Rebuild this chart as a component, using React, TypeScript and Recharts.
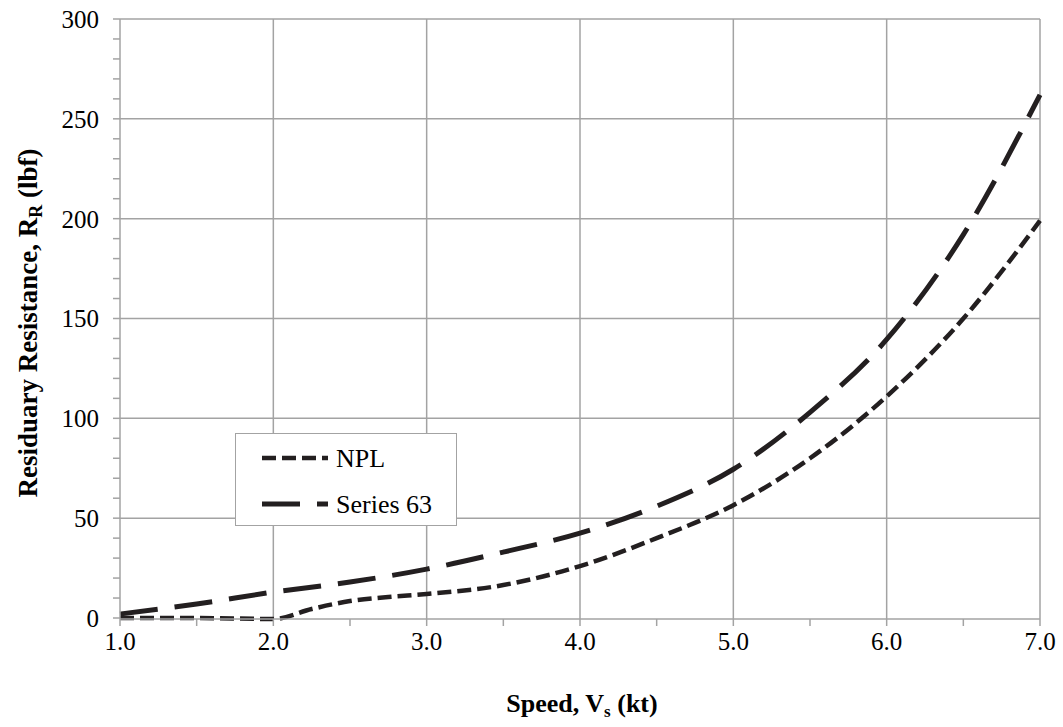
import React from 'react';
import { LineChart, Line, XAxis, YAxis, CartesianGrid, Legend, Label } from 'recharts';

const speedsNPL = [1.0, 1.5, 2.0, 2.25, 2.5, 2.75, 3.0, 3.5, 4.0, 4.5, 5.0, 5.5, 6.0, 6.5, 7.0];
const npl = [0, 0, -0.5, 4.5, 8.5, 10.5, 12, 16.5, 26, 40, 56.5, 80, 111, 150, 199];

const speedsS63 = [1.0, 1.5, 2.0, 2.5, 3.0, 3.5, 4.0, 4.5, 5.0, 5.5, 6.0, 6.5, 7.0];
const series63 = [2, 7, 13, 18, 24.5, 33, 42.5, 56, 74.5, 103, 139.5, 192, 262];

const xTicks = [1.0, 1.5, 2.0, 2.5, 3.0, 3.5, 4.0, 4.5, 5.0, 5.5, 6.0, 6.5, 7.0];
const xGrid = [2, 3, 4, 5, 6, 7];
const yTicks = Array.from({ length: 31 }, (_, i) => i * 10);
const yGrid = [50, 100, 150, 200, 250, 300];

const seriesNames = ['NPL', 'Series 63'];
const seriesDash = ['14 6', '38 17'];
const seriesWidth = [4.5, 5];

const nplData = speedsNPL.map((s, i) => ({ speed: s, value: npl[i] }));
const s63Data = speedsS63.map((s, i) => ({ speed: s, value: series63[i] }));

const FONT = 'Liberation Serif, DejaVu Serif, serif';
const GRID = '#a3a3a3';
const INK = '#231f20';

const XTitle = (props: any) => {
  const vb = props.viewBox;
  return (
    <text x={vb.x + vb.width / 2 + 2} y={vb.y + 93} textAnchor="middle" style={{ fontFamily: FONT }} fontWeight="bold" fontSize={26} fill="#000">
      <tspan>Speed, V</tspan>
      <tspan fontSize={17} dy={5}>s</tspan>
      <tspan dy={-5}> (kt)</tspan>
    </text>
  );
};

const YTitle = (props: any) => {
  const vb = props.viewBox;
  const cx = 37;
  const cy = vb.y + vb.height / 2 + 4;
  return (
    <text x={cx} y={cy} transform={`rotate(-90 ${cx} ${cy})`} textAnchor="middle" style={{ fontFamily: FONT }} fontWeight="bold" fontSize={27} fill="#000">
      <tspan>Residuary Resistance, R</tspan>
      <tspan fontSize={18} dy={5}>R</tspan>
      <tspan dy={-5}> (lbf)</tspan>
    </text>
  );
};

const LegendBox = () => (
  <div style={{ width: 222, height: 93, border: `1.5px solid ${GRID}`, background: '#fff', boxSizing: 'border-box' }}>
    <svg width={220} height={91}>
      {seriesNames.map((name, i) => (
        <g key={name}>
          <line x1={26} x2={92} y1={24 + i * 46} y2={24 + i * 46} stroke={INK} strokeWidth={seriesWidth[i]} strokeDasharray={seriesDash[i]} />
          <text x={100} y={33 + i * 46} style={{ fontFamily: FONT }} fontSize={26} fill="#000">{name}</text>
        </g>
      ))}
    </svg>
  </div>
);

export default function App() {
  return (
    <div style={{ position: 'absolute', left: 0, top: 0, width: 1063, height: 727, background: '#fff', fontFamily: FONT }}>
      <LineChart width={1063} height={727} margin={{ top: 19, right: 23, bottom: 0, left: 0 }} style={{ fontFamily: FONT }}>
        <CartesianGrid stroke={GRID} strokeWidth={1.5} horizontalValues={yGrid} verticalValues={xGrid} />
        <XAxis
          dataKey="speed"
          type="number"
          domain={[1, 7]}
          ticks={xTicks}
          allowDuplicatedCategory={false}
          height={108}
          tickSize={7}
          tickMargin={6}
          stroke={GRID}
          strokeWidth={1.5}
          tick={{ fill: '#000', style: { fontFamily: FONT }, fontSize: 25 }}
          tickFormatter={(v: number) => (Number.isInteger(v) ? v.toFixed(1) : '')}
        >
          <Label content={XTitle} />
        </XAxis>
        <YAxis
          type="number"
          domain={[0, 300]}
          ticks={yTicks}
          width={120}
          tickSize={7}
          tickMargin={14}
          stroke={GRID}
          strokeWidth={1.5}
          interval={0}
          tick={{ fill: '#000', style: { fontFamily: FONT }, fontSize: 25 }}
          tickFormatter={(v: number) => (v % 50 === 0 ? String(v) : '')}
        >
          <Label content={YTitle} />
        </YAxis>
        <Legend
          layout="vertical"
          align="center"
          verticalAlign="middle"
          content={LegendBox}
          wrapperStyle={{ position: 'absolute', left: 235, top: 433, width: 222, height: 93 }}
        />
        <Line data={nplData} dataKey="value" name={seriesNames[0]} type="monotone" stroke={INK} strokeWidth={seriesWidth[0]} strokeDasharray={seriesDash[0]} dot={false} isAnimationActive={false} />
        <Line data={s63Data} dataKey="value" name={seriesNames[1]} type="monotone" stroke={INK} strokeWidth={seriesWidth[1]} strokeDasharray={seriesDash[1]} dot={false} isAnimationActive={false} />
      </LineChart>
    </div>
  );
}
